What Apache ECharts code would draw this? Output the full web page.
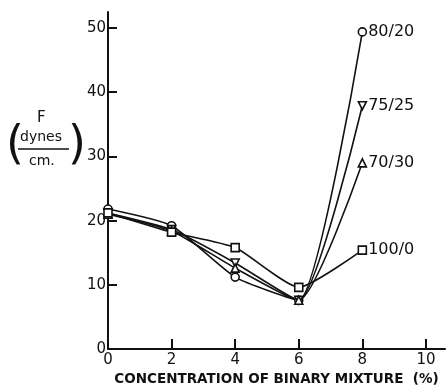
<!DOCTYPE html>
<html>
<head>
<meta charset="utf-8">
<script src="https://cdn.jsdelivr.net/npm/echarts@6/dist/echarts.min.js"></script>
<style>
  html, body { margin: 0; padding: 0; background: #fff; }
  #chart { width: 446px; height: 387px; }
</style>
</head>
<body>
<div id="chart"></div>
<script>
// concentration of binary mixture (%)
var conc = [0, 2, 4, 6, 8];
var f8020 = [21.8, 19.2, 11.2, 7.6, 49.4];
var f7525 = [21.2, 18.6, 13.4, 7.6, 37.9];
var f7030 = [21.0, 18.4, 12.6, 7.6, 29.0];
var f1000 = [21.2, 18.2, 15.8, 9.6, 15.4];
var xTicks = [0, 2, 4, 6, 8, 10];
var yTicks = [0, 10, 20, 30, 40, 50];

var FONT = 'DejaVu Sans';
var INK = '#111';

function pairs(vals) {
    return vals.map(function (v, i) { return [conc[i], v]; });
}

function mkSeries(name, vals, symbol, rotate) {
    return {
        name: name,
        type: 'line',
        smooth: 0.18,
        data: pairs(vals),
        symbol: symbol,
        symbolSize: 8,
        symbolRotate: rotate || 0,
        lineStyle: { color: INK, width: 1.6 },
        itemStyle: { color: '#fff', borderColor: INK, borderWidth: 1.6 },
        label: {
            show: true,
            position: 'right',
            distance: 1,
            fontFamily: FONT,
            fontSize: 16,
            color: INK,
            formatter: function (p) {
                return p.dataIndex === vals.length - 1 ? name : '';
            }
        },
        z: 3
    };
}

var myChart = echarts.init(document.getElementById('chart'));
var option = {
    animation: false,
    backgroundColor: '#fff',
    grid: { left: 108, right: 1, top: 12, bottom: 38, outerBoundsMode: 'none' },
    xAxis: {
        type: 'value',
        min: 0,
        max: 10.6,
        name: 'CONCENTRATION OF BINARY MIXTURE  (%)',
        nameLocation: 'middle',
        nameGap: 22,
        nameTextStyle: { fontFamily: FONT, fontSize: 13.5, fontWeight: 'bold', color: INK },
        axisLine: { lineStyle: { color: INK, width: 2 } },
        axisTick: { inside: true, length: 10, customValues: xTicks, lineStyle: { color: INK, width: 2 } },
        axisLabel: { customValues: xTicks, fontFamily: FONT, fontSize: 15, color: INK, margin: 4 },
        splitLine: { show: false }
    },
    yAxis: {
        type: 'value',
        min: 0,
        max: 52.5,
        axisLine: { show: true, lineStyle: { color: INK, width: 2 } },
        axisTick: { show: true, inside: true, length: 9, customValues: yTicks, lineStyle: { color: INK, width: 2 } },
        axisLabel: { customValues: yTicks, fontFamily: FONT, fontSize: 15, color: INK, margin: 2 },
        splitLine: { show: false }
    },
    graphic: [
        { type: 'text', left: 37, top: 111, style: { text: 'F', fontFamily: FONT, fontSize: 15, fill: INK } },
        { type: 'text', left: 20, top: 130, style: { text: 'dynes', fontFamily: FONT, fontSize: 14, fill: INK } },
        { type: 'line', shape: { x1: 18, y1: 149, x2: 69, y2: 149 }, style: { stroke: INK, lineWidth: 1.6 } },
        { type: 'text', left: 29, top: 154, style: { text: 'cm.', fontFamily: FONT, fontSize: 14, fill: INK } },
        { type: 'text', left: 6, top: 123, style: { text: '(', fontFamily: FONT, fontSize: 46, fill: INK } },
        { type: 'text', left: 68, top: 123, style: { text: ')', fontFamily: FONT, fontSize: 46, fill: INK } }
    ],
    series: [
        mkSeries('80/20', f8020, 'circle'),
        mkSeries('75/25', f7525, 'triangle', 180),
        mkSeries('70/30', f7030, 'triangle'),
        mkSeries('100/0', f1000, 'rect')
    ]
};
myChart.setOption(option);
</script>
</body>
</html>
